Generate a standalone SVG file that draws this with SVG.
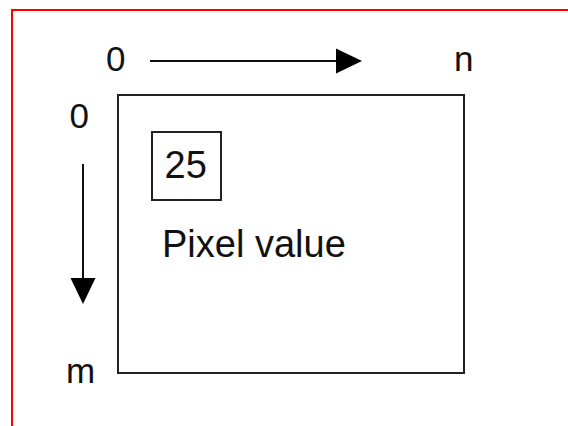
<svg xmlns="http://www.w3.org/2000/svg" width="568" height="426" viewBox="0 0 568 426">
<style>
.t{font-family:"Liberation Sans",Arial,sans-serif;fill:#111}
.ax{font-size:35px}
.big{font-size:38px}
.box{fill:none;stroke:#222;stroke-width:2}
.ln{stroke:#111;stroke-width:2;fill:none}
</style>
<defs>
<marker id="ah" markerUnits="userSpaceOnUse" markerWidth="26" markerHeight="26" refX="0" refY="12.5" orient="auto" viewBox="0 0 26 25">
<path d="M0,0 L26,12.5 L0,25 Z" fill="#000"/>
</marker>
</defs>
<rect x="12" y="10" width="600" height="500" fill="#fff" stroke="#f00" stroke-width="2"/>
<g id="image">
<rect class="box" x="118" y="95" width="346" height="278"/>
</g>
<g id="pixel">
<rect class="box" x="152" y="132" width="69" height="68"/>
<text class="t big" x="164.5" y="177.5">25</text>
</g>
<g id="pixel-label">
<text class="t big" x="162" y="256.5">Pixel value</text>
</g>
<g id="labels">
<text class="t ax" x="106" y="71">0</text>
<text class="t ax" x="454" y="71">n</text>
<text class="t ax" x="69.5" y="128">0</text>
<text class="t ax" x="66" y="383">m</text>
</g>
<g id="connectors">
<line class="ln" x1="150" y1="61" x2="336" y2="61" marker-end="url(#ah)"/>
<line class="ln" x1="83" y1="164" x2="83" y2="278" marker-end="url(#ah)"/>
</g>
</svg>
